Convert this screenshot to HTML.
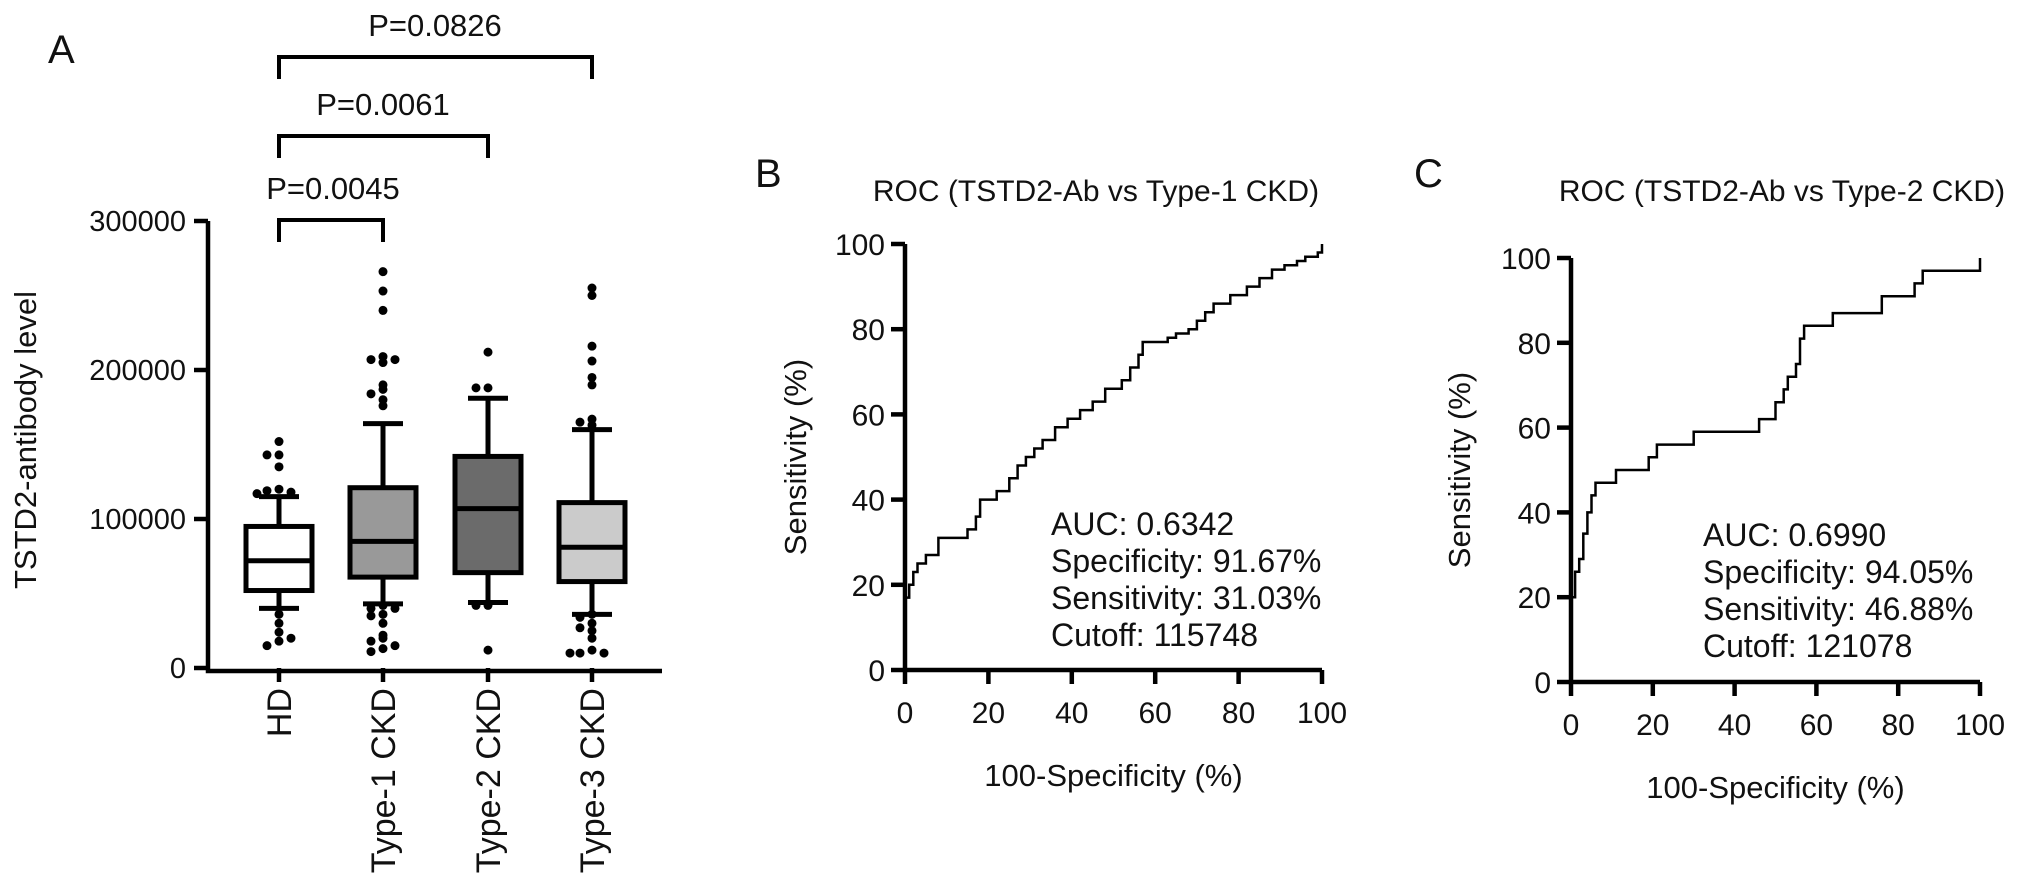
<!DOCTYPE html>
<html><head><meta charset="utf-8"><style>
html,body{margin:0;padding:0;background:#fff}
svg{display:block}
text{font-family:"Liberation Sans",Arial,sans-serif;fill:#111}
</style></head><body>
<svg id="fig" width="2032" height="894" viewBox="0 0 2032 894"></svg>
<script>
// ---------- Panel A data ----------
const groups = ["HD","Type-1 CKD","Type-2 CKD","Type-3 CKD"];
const q1 = [52000, 61000, 64000, 58000];
const med = [72000, 85000, 107000, 81000];
const q3 = [95000, 121000, 142000, 111000];
const whiskLo = [40000, 43000, 44000, 36000];
const whiskHi = [115000, 164000, 181000, 160000];
const outHD = [152000,143000,143000,135000,120000,119000,118000,117000,36000,30000,24000,18000,15000,20000];
const outT1 = [266000,253000,240000,209000,207000,207000,205000,190000,187000,184000,180000,176000,42000,40000,40000,36000,35000,30000,22000,20000,18000,15000,13000,11000];
const outT2 = [212000,188000,188000,42000,42000,12000];
const outT3 = [255000,250000,216000,206000,195000,190000,167000,165000,163000,36000,34000,30000,27000,25000,20000,12000,10000,10000,10000];
const yTicksA = [0,100000,200000,300000];
const groupFill = ["#ffffff","#999999","#6b6b6b","#cbcbcb"];
// ---------- ROC data ----------
const rocBx = [0,0,1,1,2,2,3,3,5,5,8,8,15,15,17,17,18,18,22,22,25,25,27,27,29,29,31,31,33,33,36,36,39,39,42,42,45,45,48,48,52,52,54,54,56,56,57,57,61,61,63,63,65,65,68,68,70,70,72,72,74,74,78,78,82,82,85,85,88,88,91,91,94,94,96,96,99,99,100,100];
const rocBy = [13,17,17,20,20,23,23,25,25,27,27,31,31,33,33,36,36,40,40,42,42,45,45,48,48,50,50,52,52,54,54,57,57,59,59,61,61,63,63,66,66,68,68,71,71,74,74,77,77,77,77,78,78,79,79,80,80,82,82,84,84,86,86,88,88,90,90,92,92,94,94,95,95,96,96,97,97,98,98,100];
const rocCx = [0,0,1,1,2,2,3,3,4,4,5,5,6,6,11,11,19,19,21,21,30,30,46,46,50,50,52,52,53,53,55,55,56,56,57,57,64,64,76,76,84,84,86,86,100,100];
const rocCy = [19,20,20,26,26,29,29,35,35,40,40,44,44,47,47,50,50,53,53,56,56,59,59,62,62,66,66,69,69,72,72,75,75,81,81,84,84,87,87,91,91,94,94,97,97,100];
const rocTicks = [0,20,40,60,80,100];

const NS="http://www.w3.org/2000/svg";
const svg=document.getElementById('fig');
function el(tag,attrs,parent,txt){const e=document.createElementNS(NS,tag);for(const k in attrs)e.setAttribute(k,attrs[k]);if(txt!==undefined)e.textContent=txt;(parent||svg).appendChild(e);return e;}

// ---------- Panel A ----------
const gA=el('g',{});


const A={x0:208,y0:668,yScale:149/100000};
const yA=v=>A.y0-v*A.yScale;
const xA=i=>[279,383,488,592][i];
let t=el('text',{x:48,y:63,'font-size':40},gA,'A');

let ax=el('path',{d:`M${A.x0} ${yA(300000)} V${A.y0+3} H662`,stroke:'#000','stroke-width':4.5,fill:'none'},gA);

yTicksA.forEach(v=>{
  let l=el('line',{x1:A.x0-14,x2:A.x0,y1:yA(v),y2:yA(v),stroke:'#000','stroke-width':4.5},gA);
  
  let tx=el('text',{x:A.x0-22,y:yA(v)+10,'font-size':29,'text-anchor':'end'},gA,String(v));
  
});
t=el('text',{x:0,y:0,'font-size':31,'text-anchor':'middle',transform:`translate(36,440) rotate(-90)`},gA,'TSTD2-antibody level');

const outs=[outHD,outT1,outT2,outT3];
groups.forEach((g,i)=>{
  const cx=xA(i),w=33;
  let l=el('line',{x1:cx,x2:cx,y1:A.y0,y2:A.y0+14,stroke:'#000','stroke-width':4.5},gA);
  
  let tx=el('text',{x:0,y:0,'font-size':34,'text-anchor':'end',transform:`translate(${cx+12},688) rotate(-90)`},gA,g);
  
  let wl=el('path',{d:`M${cx} ${yA(whiskHi[i])} V${yA(q3[i])} M${cx} ${yA(q1[i])} V${yA(whiskLo[i])} M${cx-20} ${yA(whiskHi[i])} H${cx+20} M${cx-20} ${yA(whiskLo[i])} H${cx+20}`,stroke:'#000','stroke-width':5,fill:'none'},gA);
  
  let b=el('rect',{x:cx-w,y:yA(q3[i]),width:2*w,height:yA(q1[i])-yA(q3[i]),fill:groupFill[i],stroke:'#000','stroke-width':5},gA);
  
  let m=el('line',{x1:cx-w,x2:cx+w,y1:yA(med[i]),y2:yA(med[i]),stroke:'#000','stroke-width':5},gA);
  
  const seen={};
  outs[i].forEach(v=>{
    const key=Math.round(v/6000);const n=seen[key]||0;seen[key]=n+1;
    const off=[0,-12,12,-22,22,-6,6][n%7];
    let c=el('circle',{cx:cx+off,cy:yA(v),r:4.5,fill:'#000'},gA);
    
  });
});
function bracket(x1,x2,y,label,ty,tx){
  let p=el('path',{d:`M${x1} ${y+22} V${y} H${x2} V${y+22}`,stroke:'#000','stroke-width':4,fill:'none'},gA);
  
  let t=el('text',{x:tx,y:ty,'font-size':31,'text-anchor':'middle'},gA,label);
  
}
bracket(279,383,220,'P=0.0045',199,333);
bracket(279,488,136,'P=0.0061',115,383);
bracket(279,592,57,'P=0.0826',36,435);

// ---------- ROC panels ----------
function roc(name,letter,lx,ly,title,tx,ty,x0,x1,y0,y1,xs,ys,lines,annX,annY,ylabX){
  const g=el('g',{});
  
  const X=v=>x0+(x1-x0)*v/100, Y=v=>y0-(y0-y1)*v/100;
  let t=el('text',{x:lx,y:ly,'font-size':40},g,letter);
  
  t=el('text',{x:tx,y:ty,'font-size':30,'text-anchor':'middle'},g,title);
  
  let a=el('path',{d:`M${x0} ${y1} V${y0} H${x1}`,stroke:'#000','stroke-width':4.5,fill:'none'},g);
  
  rocTicks.forEach(v=>{
    let l=el('line',{x1:x0-14,x2:x0,y1:Y(v),y2:Y(v),stroke:'#000','stroke-width':4.5},g);
    
    let tt=el('text',{x:x0-20,y:Y(v)+11,'font-size':30,'text-anchor':'end'},g,String(v));
    
    l=el('line',{x1:X(v),x2:X(v),y1:y0,y2:y0+14,stroke:'#000','stroke-width':4.5},g);
    
    tt=el('text',{x:X(v),y:y0+53,'font-size':30,'text-anchor':'middle'},g,String(v));
    
  });
  t=el('text',{x:(x0+x1)/2,y:y0+116,'font-size':31,'text-anchor':'middle'},g,'100-Specificity (%)');
  
  t=el('text',{x:0,y:0,'font-size':31,'text-anchor':'middle',transform:`translate(${ylabX},${(y0+y1)/2}) rotate(-90)`},g,'Sensitivity (%)');
  
  let d=xs.map((v,i)=>(i?'L':'M')+X(v).toFixed(1)+' '+Y(ys[i]).toFixed(1)).join(' ');
  let p=el('path',{d:d,stroke:'#000','stroke-width':2.5,fill:'none'},g);
  
  lines.forEach((s,i)=>{
    let tt=el('text',{x:annX,y:annY+i*37,'font-size':32},g,s);
    
  });
}
roc('panel-b','B',755,187,'ROC (TSTD2-Ab vs Type-1 CKD)',1096,201,905,1322,670,244,rocBx,rocBy,
  ['AUC: 0.6342','Specificity: 91.67%','Sensitivity: 31.03%','Cutoff: 115748'],1051,535,806);
roc('panel-c','C',1414,187,'ROC (TSTD2-Ab vs Type-2 CKD)',1782,201,1571,1980,682,258,rocCx,rocCy,
  ['AUC: 0.6990','Specificity: 94.05%','Sensitivity: 46.88%','Cutoff: 121078'],1703,546,1470);
</script>
</body></html>
